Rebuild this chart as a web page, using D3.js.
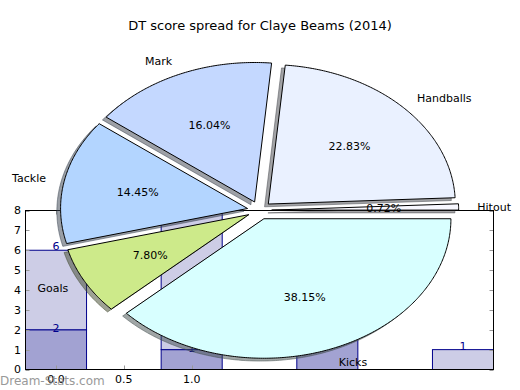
<!DOCTYPE html>
<html><head><meta charset="utf-8">
<script src="https://cdn.jsdelivr.net/npm/d3@7"></script>
<style>body{margin:0;background:#fff} text{font-family:"DejaVu Sans",sans-serif}</style>
</head><body><svg id="c" width="520" height="390"></svg>
<script>
const titleText = "DT score spread for Claye Beams (2014)";
const pieLabels = ["Hitout","Handballs","Mark","Tackle","Goals","Kicks"];
const pieValues = [0.72,22.83,16.04,14.45,7.80,38.15];
const pieColors = ["#f8f8ff","#eaf1ff","#c4d8ff","#b3d5ff","#cdea8a","#d8ffff"];
const barPositions = [0,1,2,3];
const barDark = [2,1,2,0];
const barLight = [4,7,3,1];
const yTicks = [0,1,2,3,4,5,6,7,8];
const xTicks = [0.0,0.5,1.0];
const watermark = "Dream-Stats.com";

const svg = d3.select("#c");
svg.append("rect").attr("width",520).attr("height",390).attr("fill","#fff");

// ---- bar axes ----
const L=25.5,R=493.5,T=210.5,B=369.5;
const x = d3.scaleLinear().domain([-0.225,3.225]).range([L,R]);
const y = d3.scaleLinear().domain([0,8]).range([B,T]);
const bw = 0.45;
svg.append("clipPath").attr("id","ax").append("rect").attr("x",L).attr("y",T).attr("width",R-L).attr("height",B-T);
const bars = svg.append("g").attr("clip-path","url(#ax)");
const barData = barPositions.map((p,i)=>({p,d:barDark[i],l:barLight[i]}));
bars.selectAll(".dk").data(barData.filter(d=>d.d>0)).join("rect")
  .attr("x",d=>x(d.p-bw/2)).attr("width",d=>x(d.p+bw/2)-x(d.p-bw/2))
  .attr("y",d=>y(d.d)).attr("height",d=>y(0)-y(d.d))
  .attr("fill","#a2a2d2").attr("stroke","#00008b").attr("stroke-width",1);
bars.selectAll(".lt").data(barData.filter(d=>d.l>0)).join("rect")
  .attr("x",d=>x(d.p-bw/2)).attr("width",d=>x(d.p+bw/2)-x(d.p-bw/2))
  .attr("y",d=>y(d.d+d.l)).attr("height",d=>y(d.d)-y(d.d+d.l))
  .attr("fill","#cdcde6").attr("stroke","#00008b").attr("stroke-width",1);
// bar labels
svg.selectAll(".dl").data(barData.filter(d=>d.d>0)).join("text")
  .attr("x",d=>x(d.p)).attr("y",d=>y(d.d)+2.5).attr("text-anchor","middle")
  .attr("font-size",11).attr("fill","#00008b").text(d=>d.d);
svg.selectAll(".ll").data(barData.filter(d=>d.l>0)).join("text")
  .attr("x",d=>x(d.p)).attr("y",d=>y(d.d+d.l)).attr("text-anchor","middle")
  .attr("font-size",11).attr("fill","#00008b").text(d=>d.d+d.l);
// ticks
const tk = svg.append("g").attr("stroke","#999").attr("stroke-width",1);
yTicks.forEach(t=>{
  const yy=Math.round(y(t))+0.5;
  tk.append("line").attr("x1",L).attr("x2",L+4).attr("y1",yy).attr("y2",yy);
  tk.append("line").attr("x1",R).attr("x2",R-4).attr("y1",yy).attr("y2",yy);
});
xTicks.forEach(t=>{
  const xx=Math.round(x(t))+0.5;
  tk.append("line").attr("x1",xx).attr("x2",xx).attr("y1",B).attr("y2",B-4);
  tk.append("line").attr("x1",xx).attr("x2",xx).attr("y1",T).attr("y2",T+4);
});
svg.append("rect").attr("x",L).attr("y",T).attr("width",R-L).attr("height",B-T)
  .attr("fill","none").attr("stroke","#000").attr("stroke-width",1);
svg.selectAll(".yt").data(yTicks).join("text").attr("x",L-4.5).attr("y",d=>y(d)).attr("dy","0.36em")
  .attr("text-anchor","end").attr("font-size",11).attr("fill","#000").text(d=>d);
svg.selectAll(".xt").data(xTicks).join("text").attr("x",d=>x(d)).attr("y",B+13.5)
  .attr("text-anchor","middle").attr("font-size",11).attr("fill","#000").text(d=>d.toFixed(1));

// ---- pie ----
const cx=259.5, cy=210.3, rx=187, ry=139.5, explode=0.065;
const px = d3.scaleLinear().domain([-1,1]).range([cx-rx,cx+rx]);
const py = d3.scaleLinear().domain([-1,1]).range([cy+ry,cy-ry]);
const arcs = d3.pie().sort(null).startAngle(0).endAngle(2*Math.PI)(pieValues);
const total = d3.sum(pieValues);
const line = d3.line().x(p=>px(p[0])).y(p=>py(p[1]));
const wedges = arcs.map((a,i)=>{
  const t1=a.startAngle, t2=a.endAngle, m=(t1+t2)/2;
  const ox=explode*Math.cos(m), oy=explode*Math.sin(m);
  const pts=[[ox,oy]];
  const n=Math.max(4,Math.ceil((t2-t1)/0.01));
  for(let k=0;k<=n;k++){const t=t1+(t2-t1)*k/n; pts.push([ox+Math.cos(t),oy+Math.sin(t)]);}
  return {i,m,ox,oy,pts,label:pieLabels[i],color:pieColors[i],pct:a.value/total*100};
});
const pg = svg.append("g");
pg.selectAll(".sh").data(wedges).join("path")
  .attr("d",w=>line(w.pts.map(p=>[p[0]-0.02,p[1]-0.02]))+"Z")
  .attr("fill",w=>{const c=d3.rgb(w.color);return `rgba(${c.r*0.3},${c.g*0.3},${c.b*0.3},0.5)`;})
  .attr("stroke",w=>{const c=d3.rgb(w.color);return `rgba(${c.r*0.3},${c.g*0.3},${c.b*0.3},0.5)`;})
  .attr("stroke-width",1);
pg.selectAll(".wd").data(wedges).join("path")
  .attr("d",w=>line(w.pts)+"Z").attr("fill",w=>w.color).attr("stroke","#000").attr("stroke-width",1)
  .attr("stroke-linejoin","miter");
pg.selectAll(".lb").data(wedges).join("text")
  .attr("x",w=>px(w.ox+1.1*Math.cos(w.m))).attr("y",w=>py(w.oy+1.1*Math.sin(w.m))).attr("dy","0.36em")
  .attr("text-anchor",w=>(w.ox+1.1*Math.cos(w.m))>0?"start":"end")
  .attr("font-size",11).attr("fill","#000").text(w=>w.label);
pg.selectAll(".pc").data(wedges).join("text")
  .attr("x",w=>px(w.ox+0.6*Math.cos(w.m))).attr("y",w=>py(w.oy+0.6*Math.sin(w.m))).attr("dy","0.36em")
  .attr("text-anchor","middle")
  .attr("font-size",11).attr("fill","#000").text(w=>w.pct.toFixed(2)+"%");

svg.append("text").attr("x",260).attr("y",29.5).attr("text-anchor","middle").attr("font-size",13)
  .attr("fill","#000").text(titleText);
svg.append("text").attr("x",0).attr("y",385).attr("font-size",12).attr("fill","#888").attr("opacity",0.85)
  .text(watermark);
</script></body></html>
